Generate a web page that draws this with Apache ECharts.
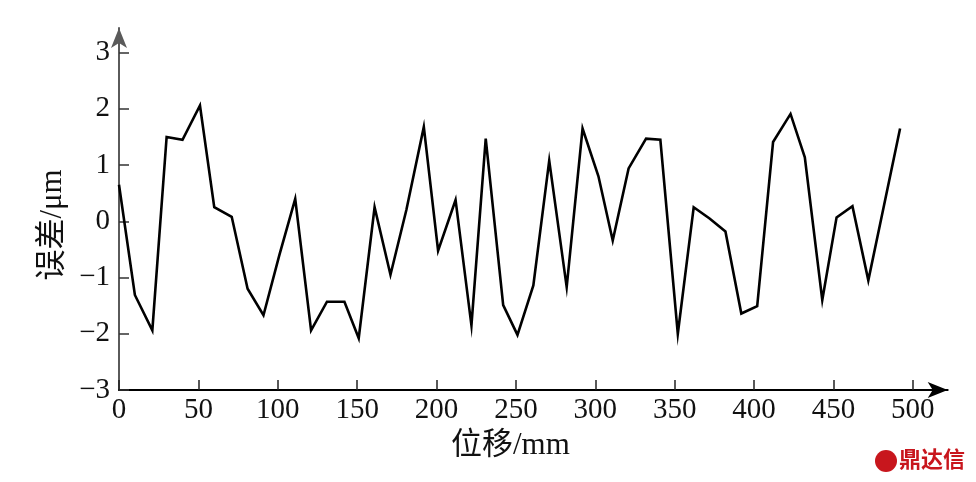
<!DOCTYPE html>
<html>
<head>
<meta charset="utf-8">
<script src="https://cdn.jsdelivr.net/npm/echarts@6/dist/echarts.min.js"></script>
<style>html,body{margin:0;padding:0;background:#fff;}#c{width:976px;height:482px;}</style>
</head>
<body>
<div id="c"></div>
<script>
// displacement positions (mm)
const positions = [0,10,21,30,40,51,60,71,81,91,101,111,121,131,142,151,161,171,181,192,201,212,222,231,242,251,261,271,282,292,302,311,321,332,341,352,362,372,382,392,402,412,423,432,443,452,462,472,482,492];
// error values (μm)
const errors = [0.65,-1.31,-1.94,1.50,1.45,2.06,0.25,0.08,-1.20,-1.67,-0.6,0.40,-1.94,-1.43,-1.43,-2.08,0.25,-0.95,0.2,1.68,-0.52,0.38,-1.85,1.47,-1.49,-2.02,-1.14,1.08,-1.17,1.65,0.8,-0.34,0.94,1.47,1.45,-2.0,0.25,0.05,-0.18,-1.64,-1.51,1.41,1.91,1.14,-1.40,0.07,0.27,-1.05,0.3,1.65];
const xTicks = [0,50,100,150,200,250,300,350,400,450,500];
const yTicks = [-3,-2,-1,0,1,2,3];
const xName = '位移/mm';
const yName = '误差/μm';

const chart = echarts.init(document.getElementById('c'), null, {renderer: 'canvas'});
const font = '"Liberation Serif", "Noto Sans CJK SC", serif';
chart.setOption({
  animation: false,
  backgroundColor: '#ffffff',
  grid: {left: 119, right: 28.3, top: 27.9, bottom: 92, containLabel: false},
  xAxis: {
    type: 'value', min: 0, max: 522, interval: 50,
    name: xName, nameLocation: 'middle', nameGap: 36,
    nameTextStyle: {fontFamily: font, fontSize: 31, color: '#111', padding: [0, 46, 0, 0]},
    axisLine: {show: true, onZero: false, lineStyle: {color: '#000', width: 2}, symbol: ['none', 'arrow'], symbolSize: [12, 20]},
    axisTick: {show: true, inside: true, length: 10, lineStyle: {color: '#222', width: 1.5}, customValues: xTicks},
    axisLabel: {fontFamily: font, fontSize: 29, color: '#111', margin: 6, customValues: xTicks},
    splitLine: {show: false}
  },
  yAxis: {
    type: 'value', min: -3, max: 3.44, interval: 1,
    name: yName, nameLocation: 'middle', nameGap: 43,
    nameTextStyle: {fontFamily: font, fontSize: 31, color: '#111', padding: [0, 32, 0, 0]},
    axisLine: {show: true, onZero: false, lineStyle: {color: '#5a5a5a', width: 2}, symbol: ['none', 'arrow'], symbolSize: [12, 20]},
    axisTick: {show: true, inside: true, length: 10, lineStyle: {color: '#333', width: 1.5}, customValues: yTicks},
    axisLabel: {fontFamily: font, fontSize: 29, color: '#111', margin: 9, customValues: yTicks,
      formatter: v => (v < 0 ? '\u2212' + Math.abs(v) : String(v))},
    splitLine: {show: false}
  },
  series: [{
    type: 'line',
    data: positions.map((x, i) => [x, errors[i]]),
    showSymbol: false,
    lineStyle: {color: '#000', width: 2.6, join: 'miter'},
    z: 3
  }],
  graphic: [
    {type: 'circle', shape: {cx: 886, cy: 461, r: 11}, style: {fill: '#c8161d'}},
    {type: 'text', x: 899, y: 448, style: {text: '鼎达信', fontFamily: '"Noto Sans CJK SC", sans-serif', fontWeight: 'bold', fontSize: 22, fill: '#c8161d'}}
  ]
});
</script>
</body>
</html>
